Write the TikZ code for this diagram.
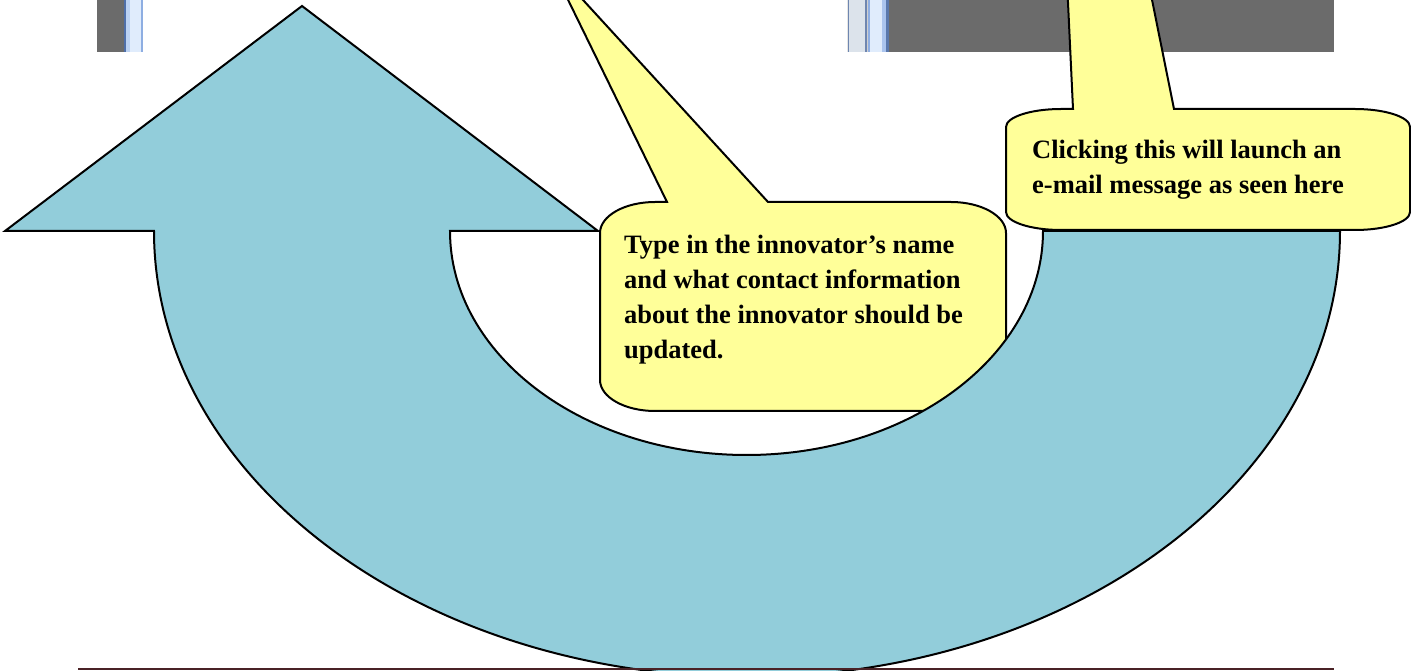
\documentclass[tikz,border=0pt]{standalone}
\usepackage{fontspec}
\setmainfont{Liberation Serif}
\definecolor{bargray}{HTML}{6B6B6B}
\definecolor{arrowblue}{HTML}{92CDDA}
\definecolor{noteyellow}{HTML}{FFFF99}
\definecolor{rulemaroon}{HTML}{4A2226}
\definecolor{edgedark}{HTML}{4F6FA8}
\definecolor{edgemid}{HTML}{BCD2F2}
\definecolor{edgelight}{HTML}{E0ECFC}
\definecolor{edgeblue}{HTML}{8EAEE2}
\definecolor{paneline}{HTML}{6E86B0}
\definecolor{panegray}{HTML}{DCE3EB}
\definecolor{panepale}{HTML}{E5E5E5}
\definecolor{panesilver}{HTML}{D0D0D0}
\definecolor{panedeep}{HTML}{5A78AC}
\definecolor{panesoft}{HTML}{AAC4EE}
\begin{document}
\begin{tikzpicture}[x=1pt,y=1pt,
  outline/.style={draw=black, line width=2pt, line join=miter},
  arrowbody/.style={outline, fill=arrowblue},
  calloutbox/.style={outline, fill=noteyellow},
  notetext/.style={anchor=north west, inner sep=0pt, align=left,
    font=\bfseries\fontsize{26.5}{35}\selectfont},
  cornerA/.style={x radius=55, y radius=31},
  cornerB/.style={x radius=55, y radius=18}]
\useasboundingbox (0,0) rectangle (1411,670);
\clip (0,0) rectangle (1411,670);

% window strips along the top edge
\fill[bargray] (96.5,618.3) rectangle (124,670);
\fill[edgedark] (124,618.3) rectangle (125.5,670);
\fill[edgemid] (125.5,618.3) rectangle (130,670);
\fill[edgelight] (130,618.3) rectangle (141,670);
\fill[edgeblue] (141,618.3) rectangle (143.3,670);

\fill[panepale] (846.5,618.3) rectangle (847.5,670);
\fill[paneline] (847.5,618.3) rectangle (849,670);
\fill[panegray] (849,618.3) rectangle (865,670);
\fill[paneline] (865,618.3) rectangle (866.5,670);
\fill[panesilver] (866.5,618.3) rectangle (868,670);
\fill[edgeblue] (868,618.3) rectangle (869.5,670);
\fill[edgelight] (869.5,618.3) rectangle (882,670);
\fill[panesoft] (882,618.3) rectangle (886,670);
\fill[panedeep] (886,618.3) rectangle (889,670);
\fill[bargray] (889,618.3) rectangle (1334,670);

% first callout
\path[calloutbox] (768,468) -- (551,705) -- (667,468) -- (655,468)
  arc[start angle=90, end angle=180, cornerA] -- (600,290)
  arc[start angle=180, end angle=270, cornerA] -- (951,259)
  arc[start angle=270, end angle=360, cornerA] -- (1006,437)
  arc[start angle=0, end angle=90, cornerA] -- cycle;
\node[notetext] (noteone) at (624,435)
  {Type in the innovator’s name\\and what contact information\\about the innovator should be\\updated.};

% U-turn arrow
\path[arrowbody] (302,664) -- (5,439) -- (154,439)
  arc[start angle=180, end angle=360, x radius=593, y radius=446] -- (1043,439)
  arc[start angle=0, end angle=-180, x radius=296.5, y radius=224] -- (598,439) -- cycle;

% second callout
\path[calloutbox] (1174,561) -- (1144,710) -- (1066,710) -- (1073,561) -- (1061,561)
  arc[start angle=90, end angle=180, cornerB] -- (1006,458)
  arc[start angle=180, end angle=270, cornerB] -- (1355,440)
  arc[start angle=270, end angle=360, cornerB] -- (1410,543)
  arc[start angle=0, end angle=90, cornerB] -- cycle;
\node[notetext] (notetwo) at (1032,530)
  {Clicking this will launch an\\e-mail message as seen here};

% rule along the bottom
\draw[rulemaroon, line width=1.3pt] (78,1) -- (1334,1);
\end{tikzpicture}
\end{document}
